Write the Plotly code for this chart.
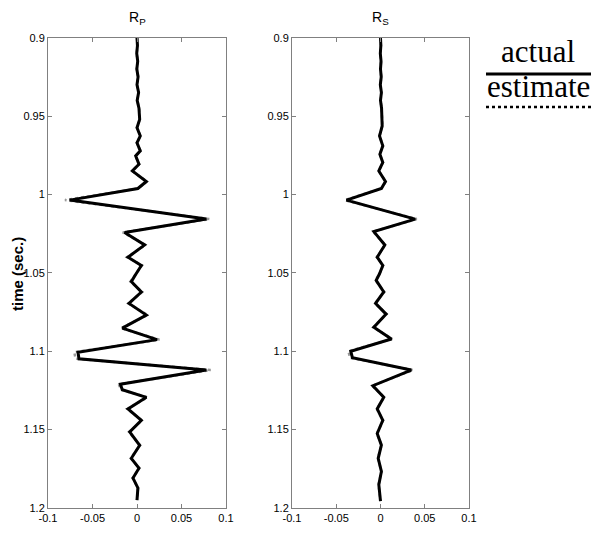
import plotly.graph_objects as go

# ---- data ----
rp_time = [0.900, 0.905, 0.910, 0.915, 0.920, 0.925, 0.930, 0.935, 0.940, 0.945,
           0.9521, 0.9574, 0.9627, 0.9670, 0.9722, 0.9754, 0.9807, 0.9850, 0.9917, 0.9962,
           1.0036, 1.0157, 1.0242, 1.0322, 1.0400, 1.0453, 1.0506, 1.0556, 1.0622, 1.0695,
           1.0769, 1.0853, 1.0926, 1.1006, 1.1048, 1.1120, 1.1210, 1.1246, 1.1294, 1.1368,
           1.1441, 1.1515, 1.1600, 1.1683, 1.1746, 1.1809, 1.1872, 1.1950]
rp_actual = [0.0, 0.0005, -0.0003, 0.0008, -0.0002, 0.0012, 0.0, 0.0018, 0.0002, 0.0022,
             0.0030, 0.0, 0.0037, 0.0, 0.0037, -0.0015, 0.0022, -0.0052, 0.0105, 0.0010,
             -0.0757, 0.0780, -0.0139, 0.0086, -0.0101, 0.0049, -0.0010, -0.0064, 0.0049, -0.0090,
             0.0105, -0.0165, 0.0225, -0.0663, -0.0652, 0.0779, -0.0187, -0.0165, 0.0105, -0.0101,
             0.0049, -0.0082, 0.0030, -0.0064, 0.0022, -0.0045, 0.0010, 0.0]
rp_estimate = [0.0, 0.0006, -0.0004, 0.0009, -0.0002, 0.0013, 0.0, 0.0019, 0.0002, 0.0024,
               0.0032, 0.0, 0.0039, -0.0002, 0.0040, -0.0018, 0.0025, -0.0058, 0.0112, 0.0012,
               -0.0810, 0.0818, -0.0160, 0.0096, -0.0112, 0.0056, -0.0012, -0.0074, 0.0058, -0.0098,
               0.0118, -0.0180, 0.0252, -0.0705, -0.0690, 0.0828, -0.0205, -0.0180, 0.0118, -0.0110,
               0.0055, -0.0090, 0.0034, -0.0070, 0.0026, -0.0050, 0.0012, 0.0]

rs_time = [0.900, 0.905, 0.910, 0.915, 0.920, 0.925, 0.930, 0.935, 0.940, 0.945,
           0.9563, 0.9627, 0.9690, 0.9743, 0.9796, 0.9850, 0.9917, 0.9962, 1.0036, 1.0157,
           1.0237, 1.0322, 1.0400, 1.0453, 1.0506, 1.0548, 1.0622, 1.0695, 1.0763, 1.0847,
           1.0922, 1.1000, 1.1042, 1.1120, 1.1220, 1.1294, 1.1368, 1.1441, 1.1525, 1.1599,
           1.1683, 1.1767, 1.1851, 1.1956]
rs_actual = [0.0, 0.0004, -0.0002, 0.0006, 0.0, 0.0008, -0.0002, 0.0010, 0.0, 0.0012,
             0.0019, -0.0011, 0.0026, -0.0007, 0.0026, -0.0019, 0.0056, 0.0010, -0.0384, 0.0392,
             -0.0075, 0.0049, -0.0037, 0.0026, -0.0011, -0.0049, 0.0037, -0.0056, 0.0063, -0.0075,
             0.0123, -0.0336, -0.0317, 0.0347, -0.0086, 0.0037, -0.0037, 0.0026, -0.0037, 0.0010,
             -0.0026, 0.0010, -0.0019, 0.0]
rs_estimate = [0.0, 0.0005, -0.0003, 0.0007, 0.0, 0.0009, -0.0002, 0.0011, 0.0, 0.0013,
               0.0021, -0.0012, 0.0028, -0.0008, 0.0028, -0.0021, 0.0060, 0.0011, -0.0405, 0.0410,
               -0.0085, 0.0054, -0.0042, 0.0030, -0.0012, -0.0055, 0.0042, -0.0062, 0.0070, -0.0082,
               0.0132, -0.0362, -0.0345, 0.0368, -0.0095, 0.0042, -0.0042, 0.0030, -0.0042, 0.0012,
               -0.0030, 0.0012, -0.0022, 0.0]

x_ticks = [-0.1, -0.05, 0, 0.05, 0.1]
x_ticklabels = ["-0.1", "-0.05", "0", "0.05", "0.1"]
y_ticks = [0.9, 0.95, 1.0, 1.05, 1.1, 1.15, 1.2]
y_ticklabels = ["0.9", "0.95", "1", "1.05", "1.1", "1.15", "1.2"]
panel_titles = ["R<sub>P</sub>", "R<sub>S</sub>"]
legend_labels = ["actual", "estimate"]

W, H = 596, 533
fig = go.Figure()

for i, (t, act, est) in enumerate([(rp_time, rp_actual, rp_estimate),
                                   (rs_time, rs_actual, rs_estimate)]):
    xa = "x" if i == 0 else "x2"
    ya = "y" if i == 0 else "y2"
    fig.add_trace(go.Scatter(x=est, y=t, xaxis=xa, yaxis=ya, mode="lines",
                             line=dict(color="#9a9a9a", width=2.5, dash="dot"),
                             name=legend_labels[1], showlegend=False))
    fig.add_trace(go.Scatter(x=act, y=t, xaxis=xa, yaxis=ya, mode="lines",
                             line=dict(color="black", width=3),
                             name=legend_labels[0], showlegend=False))

axis_common = dict(showline=True, linecolor="#808080", linewidth=1, mirror="allticks",
                   ticks="inside", ticklen=4, tickcolor="#808080", showgrid=False,
                   zeroline=False,
                   tickfont=dict(family="Liberation Sans Narrow, Arial Narrow, Liberation Sans, Arial",
                                 size=11, color="black"))

ydom = [1 - 508 / H, 1 - 37.7 / H]
fig.update_layout(
    width=W, height=H, margin=dict(l=0, r=0, t=0, b=0, autoexpand=False),
    paper_bgcolor="white", plot_bgcolor="white", showlegend=False,
    xaxis=dict(domain=[48 / W, 226 / W], range=[-0.1, 0.1], tickvals=x_ticks,
               ticktext=x_ticklabels, anchor="y", **axis_common),
    yaxis=dict(domain=ydom, range=[1.2, 0.9], tickvals=y_ticks, ticktext=y_ticklabels,
               anchor="x", **axis_common),
    xaxis2=dict(domain=[292 / W, 469 / W], range=[-0.1, 0.1], tickvals=x_ticks,
                ticktext=x_ticklabels, anchor="y2", **axis_common),
    yaxis2=dict(domain=ydom, range=[1.2, 0.9], tickvals=y_ticks, ticktext=y_ticklabels,
                anchor="x2", **axis_common),
)

ann_common = dict(xref="paper", yref="paper", showarrow=False,
                  xanchor="center", yanchor="middle")
annotations = [
    dict(text=panel_titles[0], x=137 / W, y=1 - 18 / H,
         font=dict(family="Liberation Sans, Arial", size=14, color="black"), **ann_common),
    dict(text=panel_titles[1], x=380 / W, y=1 - 18 / H,
         font=dict(family="Liberation Sans, Arial", size=14, color="black"), **ann_common),
    dict(text="<b>time (sec.)</b>", x=17 / W, y=1 - 274 / H, textangle=-90,
         font=dict(family="Liberation Sans, Arial", size=15, color="black"), **ann_common),
    dict(text=legend_labels[0], x=538 / W, y=1 - 52 / H,
         font=dict(family="Liberation Serif, Times New Roman", size=31, color="black"), **ann_common),
    dict(text=legend_labels[1], x=538 / W, y=1 - 87 / H,
         font=dict(family="Liberation Serif, Times New Roman", size=31, color="black"), **ann_common),
]
fig.update_layout(annotations=annotations)

fig.add_shape(type="line", xref="paper", yref="paper", x0=486 / W, x1=591 / W,
              y0=1 - 74 / H, y1=1 - 74 / H, line=dict(color="black", width=3))
fig.add_shape(type="line", xref="paper", yref="paper", x0=486 / W, x1=591 / W,
              y0=1 - 107 / H, y1=1 - 107 / H, line=dict(color="black", width=2.5, dash="dot"))

fig.write_html("out.html")
